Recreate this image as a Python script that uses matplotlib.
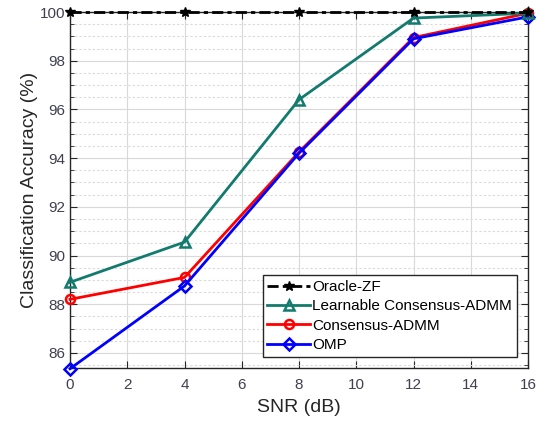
import matplotlib
matplotlib.use("Agg")
import matplotlib.pyplot as plt
from matplotlib.ticker import MultipleLocator

plt.rcParams['font.family'] = ['Liberation Sans', 'DejaVu Sans']

snr = [0, 4, 8, 12, 16]
oracle_zf = [100, 100, 100, 100, 100]
learnable_admm = [88.9, 90.55, 96.4, 99.75, 99.95]
consensus_admm = [88.2, 89.1, 94.25, 98.95, 99.95]
omp = [85.35, 88.75, 94.2, 98.9, 99.8]

xticks = [0, 2, 4, 6, 8, 10, 12, 14, 16]
yticks = [86, 88, 90, 92, 94, 96, 98, 100]

fig = plt.figure(figsize=(5.46, 4.23), dpi=100)
ax = fig.add_axes([70/546, 1-368/423, (528-70)/546, (368-12)/423])

ax.plot(snr, oracle_zf, color='black', ls=(0, (4, 1.5, 1.5, 1.5)), lw=2, marker='*', ms=7,
        mfc='black', mec='black', label='Oracle-ZF', zorder=5, clip_on=False)
ax.plot(snr, learnable_admm, color='#137a6e', ls='-', lw=2, marker='^', ms=7.5,
        mfc='none', mec='#137a6e', mew=1.8, label='Learnable Consensus-ADMM', zorder=4, clip_on=False)
ax.plot(snr, consensus_admm, color='#ff0000', ls='-', lw=2, marker='o', ms=6.5,
        mfc='none', mec='#ff0000', mew=1.8, label='Consensus-ADMM', zorder=3, clip_on=False)
ax.plot(snr, omp, color='#0000ff', ls='-', lw=2, marker='D', ms=6,
        mfc='none', mec='#0000ff', mew=1.8, label='OMP', zorder=3, clip_on=False)

ax.set_xlim(0, 16)
ax.set_ylim(85.38, 100)
ax.set_xticks(xticks)
ax.set_yticks(yticks)
ax.yaxis.set_minor_locator(MultipleLocator(0.5))

ax.grid(which='major', color='#d9d9d9', ls='-', lw=0.8)
ax.grid(which='minor', axis='y', color='#d9d9d9', ls=(0, (2, 2)), lw=0.8)
ax.set_axisbelow(True)

tc = '#404050'
ax.tick_params(which='both', direction='in', top=True, right=True, colors='#262626',
               labelcolor=tc, labelsize=11)
ax.tick_params(which='major', length=5)
ax.tick_params(which='minor', length=3)
ax.tick_params(axis='x', pad=7)
for s in ax.spines.values():
    s.set_color('#262626')
    s.set_linewidth(1.0)

ax.set_xlabel('SNR (dB)', fontsize=14, color='#262626', labelpad=5)
ax.set_ylabel('Classification Accuracy (%)', fontsize=14, color='#262626', labelpad=1)

leg = ax.legend(loc='lower right', fontsize=11, frameon=True, fancybox=False,
                edgecolor='#262626', framealpha=1, borderpad=0.3, labelspacing=0.35,
                handlelength=2.8, handletextpad=0.15, borderaxespad=0.75)
leg.get_frame().set_linewidth(1.0)

fig.savefig('out.png', dpi=100)
